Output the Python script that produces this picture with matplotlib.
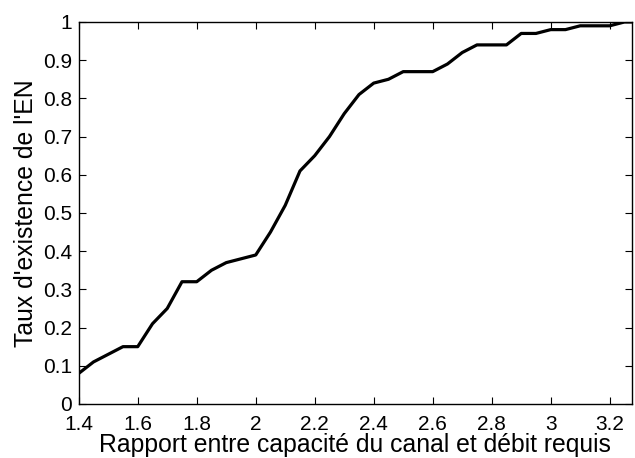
import matplotlib.pyplot as plt

plt.rcParams['font.family'] = ['Liberation Sans', 'DejaVu Sans']

# rapport capacité / débit requis
ratio = [1.40, 1.45, 1.50, 1.55, 1.60, 1.65, 1.70, 1.75, 1.80, 1.85,
         1.90, 1.95, 2.00, 2.05, 2.10, 2.15, 2.20, 2.25, 2.30, 2.35,
         2.40, 2.45, 2.50, 2.55, 2.60, 2.65, 2.70, 2.75, 2.80, 2.85,
         2.90, 2.95, 3.00, 3.05, 3.10, 3.15, 3.20, 3.25, 3.30]
# taux d'existence de l'équilibre de Nash
taux = [0.08, 0.11, 0.13, 0.15, 0.15, 0.21, 0.25, 0.32, 0.32, 0.35,
        0.37, 0.38, 0.39, 0.45, 0.52, 0.61, 0.65, 0.70, 0.76, 0.81,
        0.84, 0.85, 0.87, 0.87, 0.87, 0.89, 0.92, 0.94, 0.94, 0.94,
        0.97, 0.97, 0.98, 0.98, 0.99, 0.99, 0.99, 1.00, 1.00]

xticks = [1.4, 1.6, 1.8, 2, 2.2, 2.4, 2.6, 2.8, 3, 3.2]
yticks = [0, 0.1, 0.2, 0.3, 0.4, 0.5, 0.6, 0.7, 0.8, 0.9, 1]

fig = plt.figure(figsize=(6.35, 4.58), dpi=100)
ax = fig.add_axes([0.124, 0.118, 0.871, 0.834])

ax.plot(ratio, taux, color='black', linewidth=2.3)

ax.set_xlim(1.4, 3.275)
ax.set_ylim(0, 1)
ax.set_xticks(xticks)
ax.set_xticklabels([f"{v:g}" for v in xticks])
ax.set_yticks(yticks)
ax.set_yticklabels([f"{v:g}" for v in yticks])
ax.tick_params(direction='in', top=True, right=True, length=5, width=0.8,
               labelsize=15)
ax.tick_params(axis='x', pad=8)
ax.tick_params(axis='y', pad=5)
for s in ax.spines.values():
    s.set_linewidth(1.0)

ax.set_xlabel("Rapport entre capacité du canal et débit requis", fontsize=17.8, labelpad=-1)
ax.set_ylabel("Taux d'existence de l'EN", fontsize=17.8, labelpad=3.6)

fig.savefig("out.png", dpi=100)
